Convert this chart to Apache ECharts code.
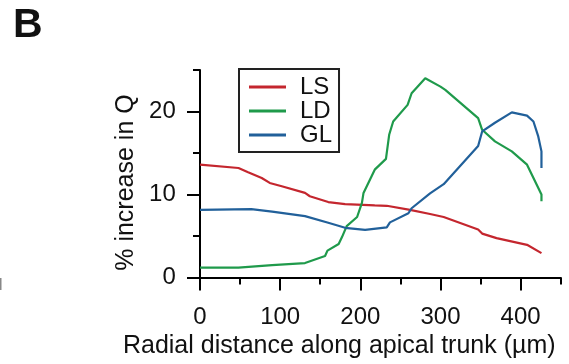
<!DOCTYPE html>
<html>
<head>
<meta charset="utf-8">
<script src="https://cdn.jsdelivr.net/npm/echarts@6/dist/echarts.min.js"></script>
<style>
html,body{margin:0;padding:0;background:#fff;}
#chart{width:569px;height:364px;}
</style>
</head>
<body>
<div id="chart"></div>
<script>
// ---- data ----
var seriesNames = ['LS', 'LD', 'GL'];
var lsData = [[0,13.6],[48,13.2],[60,12.7],[77,12.0],[87,11.4],[102,11.0],[131,10.2],[137,9.8],[160,9.1],[181,8.85],[218,8.7],[233,8.65],[262,8.15],[287,7.66],[304,7.3],[347,5.8],[352,5.3],[370,4.75],[408,3.95],[426,2.95]];
var ldData = [[0,1.2],[48,1.2],[90,1.5],[131,1.75],[156,2.6],[159,3.25],[173,4.05],[177,4.85],[183,6.2],[196,7.3],[202,9.0],[204,10.2],[218,13.0],[232,14.3],[236,17.2],[241,18.8],[259,20.8],[264,22.2],[281,24.0],[300,23.0],[306,22.6],[347,19.2],[352,17.8],[368,16.4],[389,15.2],[408,13.6],[426,10.0],[426,9.2]];
var glData = [[0,8.15],[64,8.25],[90,7.95],[131,7.4],[160,6.6],[181,6.0],[206,5.75],[233,6.05],[237,6.65],[260,7.75],[264,8.35],[287,10.15],[304,11.25],[347,15.85],[352,17.6],[368,18.65],[389,19.9],[408,19.5],[416,18.8],[422,17.0],[426,15.2],[426,13.2]];
var xMajorTicks = [0, 100, 200, 300, 400];
var xMinorTicks = [50, 150, 250, 350, 450];
var yMajorTicks = [0, 10, 20];
var yMinorTicks = [5, 15, 25];
var xTitle = 'Radial distance along apical trunk (\u00b5m)';
var yTitle = '% increase in Q';
var panelLabel = 'B';

var colors = ['#c4262e', '#1f9a4b', '#21609a'];
var FONT = '"Liberation Sans", Arial, Helvetica, sans-serif';

var chart = echarts.init(document.getElementById('chart'), null, {renderer: 'canvas'});

function baseX(ticks, len, labels, withName) {
  var ax = {
    type: 'value', min: -4, max: 450, position: 'bottom', gridIndex: 0,
    axisLine: {show: !!labels, lineStyle: {color: '#000', width: 2}},
    axisTick: {show: true, customValues: ticks, length: len, lineStyle: {color: '#000', width: 2}},
    axisLabel: labels ? {show: true, customValues: ticks, fontSize: 24, color: '#111', fontFamily: FONT, margin: 25} : {show: false},
    splitLine: {show: false}
  };
  if (withName) {
    ax.name = xTitle;
    ax.nameLocation = 'middle';
    ax.nameGap = 47;
    ax.nameTextStyle = {fontSize: 25, color: '#111', fontFamily: FONT, padding: [0, 79, 0, 0]};
  }
  return ax;
}
function baseY(ticks, len, labels, withName) {
  var ax = {
    type: 'value', min: -0.3, max: 25, position: 'left', gridIndex: 0,
    axisLine: {show: !!labels, lineStyle: {color: '#000', width: 2}},
    axisTick: {show: true, customValues: ticks, length: len, lineStyle: {color: '#000', width: 2}},
    axisLabel: labels ? {show: true, customValues: ticks, fontSize: 24, color: '#111', fontFamily: FONT, margin: 21} : {show: false},
    splitLine: {show: false}
  };
  if (withName) {
    ax.name = yTitle;
    ax.nameLocation = 'middle';
    ax.nameGap = 53;
    ax.nameTextStyle = {fontSize: 25, color: '#111', fontFamily: FONT, padding: [0, 15, 0, 0]};
  }
  return ax;
}

function mkSeries(i, data) {
  return {
    name: seriesNames[i], type: 'line', data: data, xAxisIndex: 0, yAxisIndex: 0,
    symbol: 'none', showSymbol: false, clip: false,
    lineStyle: {color: colors[i], width: 2.2}, itemStyle: {color: colors[i]}
  };
}

chart.setOption({
  animation: false,
  backgroundColor: '#fff',
  grid: {left: 196.8, right: 8.3, top: 70, bottom: 83.8, containLabel: false},
  xAxis: [baseX(xMajorTicks, 13, true, true), baseX(xMinorTicks, 7, false, false)],
  yAxis: [baseY(yMajorTicks, 13, true, true), baseY(yMinorTicks, 7, false, false)],
  legend: {
    data: seriesNames, orient: 'vertical', left: 239, top: 69,
    borderColor: '#222', borderWidth: 2, padding: [6, 7, 5, 10],
    itemGap: 0, itemWidth: 37, itemHeight: 3, icon: 'rect',
    textStyle: {fontSize: 24, color: '#111', fontFamily: FONT, lineHeight: 23.3, padding: [0, 0, 0, 9]}
  },
  graphic: [
    {type: 'text', left: 13, top: 5, style: {text: panelLabel, fill: '#111', font: 'bold 41px ' + FONT}},
    {type: 'rect', shape: {x: 0, y: 278, width: 1.5, height: 12}, style: {fill: '#888'}}
  ],
  series: [mkSeries(0, lsData), mkSeries(1, ldData), mkSeries(2, glData)]
});
</script>
</body>
</html>
